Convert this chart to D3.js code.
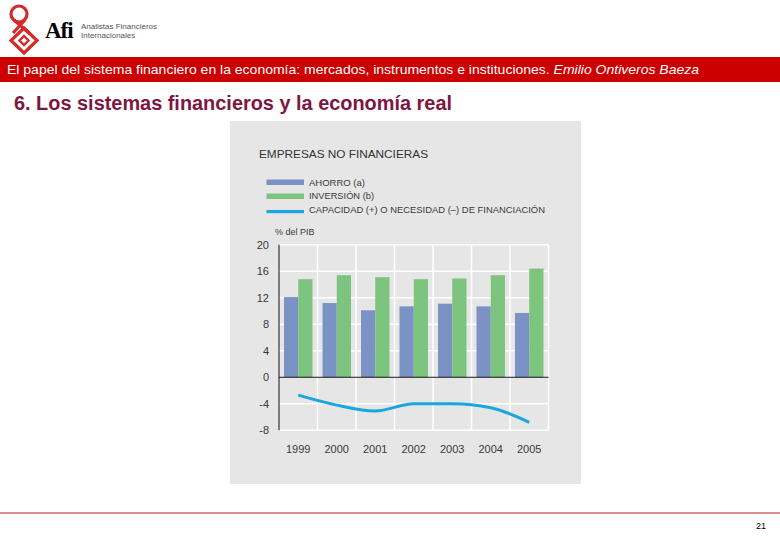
<!DOCTYPE html>
<html>
<head>
<meta charset="utf-8">
<script src="https://cdn.jsdelivr.net/npm/d3@7"></script>
<style>
  body { margin: 0; background: #fff; }
  svg { display: block; }
</style>
</head>
<body>
<svg id="chart" width="780" height="540"></svg>
<script>
// chart data (% del PIB)
const years = ['1999', '2000', '2001', '2002', '2003', '2004', '2005'];
const ahorro = [12.1, 11.2, 10.1, 10.7, 11.1, 10.7, 9.7];
const inversion = [14.8, 15.4, 15.1, 14.8, 14.9, 15.4, 16.4];
const capacidad = [-2.7, -4.2, -5.1, -4.0, -4.0, -4.6, -6.8];
const yTicks = [-8, -4, 0, 4, 8, 12, 16, 20];
const seriesNames = ['AHORRO (a)', 'INVERSIÓN (b)', 'CAPACIDAD (+) O NECESIDAD (–) DE FINANCIACIÓN'];

const colBlue = '#7b93c4';
const colGreen = '#7dc47f';
const colLine = '#1ca6e0';

const font = '"Liberation Sans", Arial, sans-serif';
const txtCol = '#3a3a3a';

const svg = d3.select('#chart');

// ---- page header ----
const logo = svg.append('g').attr('fill', 'none').attr('stroke', '#d42a2a').attr('stroke-width', 3.2);
logo.append('circle').attr('cx', 19).attr('cy', 14).attr('r', 8);
logo.append('path').attr('d', 'M14,20 L30,34 M25,20 L13,33');
logo.append('path').attr('d', 'M24,28 L37,40.5 L24,53 L11,40.5 Z');
logo.append('path').attr('d', 'M24,36 L28.5,40.5 L24,45 L19.5,40.5 Z').attr('stroke-width', 2.4);

svg.append('text').attr('x', 45).attr('y', 38)
  .style('font-family', '"Liberation Serif", serif').style('font-weight', 'bold')
  .style('font-size', '23px').style('letter-spacing', '-1px').text('Afi');
svg.append('text').attr('x', 81).attr('y', 29)
  .style('font-family', font).style('font-size', '8px')
  .attr('fill', '#555').text('Analistas Financieros');
svg.append('text').attr('x', 81).attr('y', 38)
  .style('font-family', font).style('font-size', '8px')
  .attr('fill', '#555').text('Internacionales');

svg.append('rect').attr('x', 0).attr('y', 57).attr('width', 780).attr('height', 25).attr('fill', '#cc0000');
const sub = svg.append('text').attr('x', 7).attr('y', 74)
  .attr('textLength', 692).attr('lengthAdjust', 'spacingAndGlyphs')
  .style('font-family', font).style('font-size', '13.5px')
  .attr('fill', '#fff');
sub.append('tspan').text('El papel del sistema financiero en la economía: mercados, instrumentos e instituciones. ');
sub.append('tspan').style('font-style', 'italic').text('Emilio Ontiveros Baeza');

svg.append('text').attr('x', 14).attr('y', 110)
  .attr('textLength', 438).attr('lengthAdjust', 'spacingAndGlyphs')
  .style('font-family', font).style('font-size', '19.5px')
  .style('font-weight', 'bold').attr('fill', '#80163f')
  .text('6. Los sistemas financieros y la economía real');

// footer
svg.append('line').attr('x1', 0).attr('x2', 780).attr('y1', 513).attr('y2', 513)
  .attr('stroke', '#b01818').attr('stroke-width', 1);
svg.append('text').attr('x', 766).attr('y', 529).attr('text-anchor', 'end')
  .style('font-family', font).style('font-size', '9px')
  .text('21');

// ---- chart panel ----
svg.append('rect').attr('x', 230).attr('y', 121).attr('width', 351).attr('height', 363).attr('fill', '#e6e6e6');

svg.append('text').attr('x', 259).attr('y', 158).attr('textLength', 169)
  .attr('lengthAdjust', 'spacingAndGlyphs')
  .style('font-family', font).style('font-size', '11.5px').attr('fill', '#333')
  .text('EMPRESAS NO FINANCIERAS');

// legend
const legend = svg.append('g');
legend.append('rect').attr('x', 266.5).attr('y', 179.5).attr('width', 37.5).attr('height', 5.5).attr('fill', colBlue);
legend.append('rect').attr('x', 266.5).attr('y', 193.5).attr('width', 37.5).attr('height', 5.5).attr('fill', colGreen);
legend.append('rect').attr('x', 266.5).attr('y', 210).attr('width', 37.5).attr('height', 3.2).attr('fill', colLine);
const legendLen = [56, 65, 236];
const legendBase = [185.5, 199.3, 213.3];
seriesNames.forEach((n, i) => {
  legend.append('text').attr('x', 309).attr('y', legendBase[i])
    .attr('textLength', legendLen[i]).attr('lengthAdjust', 'spacingAndGlyphs')
    .style('font-family', font).style('font-size', '9.3px').attr('fill', txtCol)
    .text(n);
});

svg.append('text').attr('x', 275).attr('y', 235)
  .style('font-family', font).style('font-size', '9px').attr('fill', txtCol)
  .text('% del PIB');

// scales
const x = d3.scaleBand().domain(years).range([279, 548.5]).padding(0);
const xSub = d3.scaleBand().domain(['a', 'b']).range([0, x.bandwidth()]).paddingInner(0).paddingOuter(0.35);
const y = d3.scaleLinear().domain([-8, 20]).range([430.3, 244.7]);

const plot = svg.append('g');

// grid
plot.selectAll('line.h').data(yTicks).enter().append('line')
  .attr('x1', 279).attr('x2', 548.5)
  .attr('y1', d => y(d)).attr('y2', d => y(d))
  .attr('stroke', '#fff').attr('stroke-width', 1.5);
plot.selectAll('line.v').data(years).enter().append('line')
  .attr('x1', d => x(d) + x.bandwidth()).attr('x2', d => x(d) + x.bandwidth())
  .attr('y1', y(20)).attr('y2', y(-8))
  .attr('stroke', '#fff').attr('stroke-width', 1.5);

// bars
plot.selectAll('rect.a').data(years).enter().append('rect')
  .attr('x', (d) => x(d) + xSub('a'))
  .attr('width', xSub.bandwidth())
  .attr('y', (d, i) => y(ahorro[i]))
  .attr('height', (d, i) => y(0) - y(ahorro[i]))
  .attr('fill', colBlue);
plot.selectAll('rect.b').data(years).enter().append('rect')
  .attr('x', (d) => x(d) + xSub('b'))
  .attr('width', xSub.bandwidth())
  .attr('y', (d, i) => y(inversion[i]))
  .attr('height', (d, i) => y(0) - y(inversion[i]))
  .attr('fill', colGreen);

// zero line and left axis
plot.append('line').attr('x1', 279).attr('x2', 548.5).attr('y1', y(0)).attr('y2', y(0))
  .attr('stroke', '#111').attr('stroke-width', 1.2);
plot.append('line').attr('x1', 279).attr('x2', 279).attr('y1', y(20)).attr('y2', y(-8))
  .attr('stroke', '#111').attr('stroke-width', 1);

// line
const line = d3.line()
  .x((d, i) => x(years[i]) + x.bandwidth() / 2)
  .y(d => y(d))
  .curve(d3.curveMonotoneX);
plot.append('path').datum(capacidad).attr('d', line)
  .attr('fill', 'none').attr('stroke', colLine).attr('stroke-width', 3);

// axis labels
plot.selectAll('text.yl').data(yTicks).enter().append('text')
  .attr('x', 269).attr('y', d => y(d)).attr('dy', '0.35em').attr('text-anchor', 'end')
  .style('font-family', font).style('font-size', '11px').attr('fill', txtCol)
  .text(d => d);
plot.selectAll('text.xl').data(years).enter().append('text')
  .attr('x', d => x(d) + x.bandwidth() / 2).attr('y', 449).attr('dy', '0.35em').attr('text-anchor', 'middle')
  .style('font-family', font).style('font-size', '11px').attr('fill', txtCol)
  .text(d => d);
</script>
</body>
</html>
